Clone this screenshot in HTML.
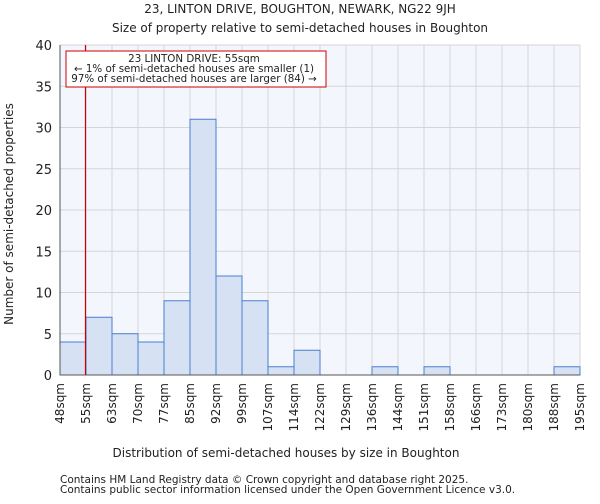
<!DOCTYPE html>
<html><head><meta charset="utf-8"><style>
body{margin:0;background:#fff;font-family:"DejaVu Sans","Liberation Sans",sans-serif;}
svg text{font-family:"DejaVu Sans","Liberation Sans",sans-serif;fill:#222;}
</style></head><body>
<svg id="c" width="600" height="500" xmlns="http://www.w3.org/2000/svg">
<text x="300" y="13" font-size="12" text-anchor="middle">23, LINTON DRIVE, BOUGHTON, NEWARK, NG22 9JH</text>
<text x="300" y="32" font-size="12" text-anchor="middle">Size of property relative to semi-detached houses in Boughton</text>
<rect x="60" y="45" width="520" height="330" fill="#f3f6fd"/>
<g id="grid"></g><g id="bars"></g><g id="axes"></g>
<text x="286" y="457" font-size="12" text-anchor="middle">Distribution of semi-detached houses by size in Boughton</text>
<text transform="translate(13,214) rotate(-90)" font-size="12" text-anchor="middle">Number of semi-detached properties</text>
<text x="60" y="483" font-size="10.5" fill="#444">Contains HM Land Registry data © Crown copyright and database right 2025.</text>
<text x="60" y="493" font-size="10.5" fill="#444">Contains public sector information licensed under the Open Government Licence v3.0.</text>
</svg>
<script>
const tickLabels=["48sqm","55sqm","63sqm","70sqm","77sqm","85sqm","92sqm","99sqm","107sqm","114sqm","122sqm","129sqm","136sqm","144sqm","151sqm","158sqm","166sqm","173sqm","180sqm","188sqm","195sqm"];
const counts=[4,7,5,4,9,31,12,9,1,3,0,0,1,0,1,0,0,0,0,1];
const yTicks=[0,5,10,15,20,25,30,35,40];
const markerIndex=1;
const NS="http://www.w3.org/2000/svg";
const L=60,R=580,T=45,B=375,yMax=40;
const bw=(R-L)/counts.length;
const xs=i=>L+i*bw;
const ys=v=>B-v/yMax*(B-T);
function mk(p,tag,a){const e=document.createElementNS(NS,tag);for(const k in a)e.setAttribute(k,a[k]);document.getElementById(p).appendChild(e);return e;}
yTicks.forEach(v=>{
  const g=mk('grid','line',{x1:L,x2:R,y1:ys(v),y2:ys(v),stroke:'#d5d5d5'});
  
  
  const t=mk('axes','text',{x:L-8,y:ys(v)+5,'font-size':13,'text-anchor':'end'});t.textContent=v;
  
  
});
tickLabels.forEach((s,i)=>{
  const g=mk('grid','line',{x1:xs(i),x2:xs(i),y1:T,y2:B,stroke:'#d5d5d5'});
  
  
  const x=xs(i)+4;
  const t=mk('axes','text',{x:x,y:B+8,'font-size':12,'text-anchor':'end',transform:`rotate(-90 ${x} ${B+8})`});t.textContent=s;
  
  
});
counts.forEach((v,i)=>{
  if(v<=0)return;
  const r=mk('bars','rect',{x:xs(i),y:ys(v),width:bw,height:B-ys(v),fill:'#d6e1f3',stroke:'#4a7fd0','stroke-width':1});
  
  
});
const ax=mk('axes','line',{x1:L,x2:R,y1:B,y2:B,stroke:'#555'});


const ay=mk('axes','line',{x1:L,x2:L,y1:T,y2:B,stroke:'#555'});


const mx=xs(markerIndex)-0.5;
const ml=mk('axes','line',{x1:mx,x2:mx,y1:T,y2:B,stroke:'#c00','stroke-width':1.2});


const box=mk('axes','rect',{x:66,y:51,width:260,height:36,fill:'#fff',stroke:'#c00','stroke-width':1});


["23 LINTON DRIVE: 55sqm","← 1% of semi-detached houses are smaller (1)","97% of semi-detached houses are larger (84) →"].forEach((s,i)=>{
  const t=mk('axes','text',{x:194,y:62+i*10,'font-size':10.3,'text-anchor':'middle',fill:'#111'});t.textContent=s;
  
  
});
</script>
</body></html>
